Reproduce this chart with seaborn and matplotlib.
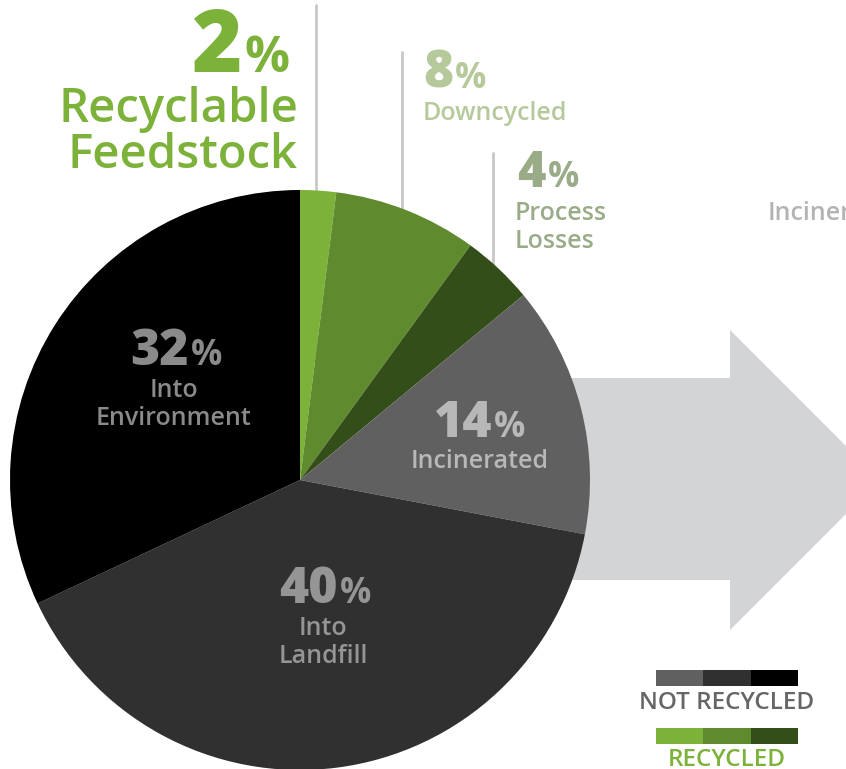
import seaborn as sns
import matplotlib.pyplot as plt
from matplotlib.patches import Polygon

# dados do gráfico
categorias = ['Recyclable Feedstock', 'Downcycled', 'Process Losses',
              'Incinerated', 'Into Landfill', 'Into Environment']
valores = [2, 8, 4, 14, 40, 32]
cores = ['#7db23a', '#5f8a2d', '#344e1a', '#606060', '#303030', '#000000']
grupos = ['RECYCLED', 'RECYCLED', 'RECYCLED',
          'NOT RECYCLED', 'NOT RECYCLED', 'NOT RECYCLED']

sns.set_theme(style='white')
plt.rcParams['font.family'] = ['Open Sans', 'DejaVu Sans']

W, H = 846, 769
fig = plt.figure(figsize=(W / 100, H / 100), dpi=100)
ax = fig.add_axes([0, 0, 1, 1])


def Y(y):
    return H - y


# seta ao fundo
seta = [(560, 378), (730, 378), (730, 330), (880, 480), (730, 630), (730, 580), (560, 580)]
ax.add_patch(Polygon([(x, Y(y)) for x, y in seta], closed=True,
                     facecolor='#d3d4d6', edgecolor='none', zorder=0))

# linhas verticais das chamadas
for x, y0 in [(316, 5), (402, 52), (493, 153)]:
    ax.plot([x, x], [Y(y0), Y(400)], color='#c8c8c8', lw=2, zorder=1)

# pizza
ax.pie(valores, colors=cores, startangle=90, counterclock=False,
       center=(300, Y(480)), radius=290,
       wedgeprops=dict(linewidth=0, zorder=2))
ax.set_xlim(0, W)
ax.set_ylim(0, H)
ax.set_aspect('auto')
ax.axis('off')


def rotulo(x_split, y_base, numero, linhas, cor, tam_num, tam_pct, tam_txt,
           ha_txt, x_txt, passo):
    ax.text(x_split, Y(y_base), str(numero), ha='right', va='baseline',
            fontsize=tam_num, fontweight=800, color=cor, zorder=5)
    ax.text(x_split + 2, Y(y_base), '%', ha='left', va='baseline',
            fontsize=tam_pct, fontweight='bold', color=cor, zorder=5)
    for i, linha in enumerate(linhas):
        ax.text(x_txt, Y(y_base + passo[0] + i * passo[1]), linha, ha=ha_txt,
                va='baseline', fontsize=tam_txt, fontweight=600, color=cor,
                zorder=5)


# chamadas externas
rotulo(242, 72, valores[0], ['Recyclable', 'Feedstock'], '#7db23a',
       62, 36, 34, 'right', 298, (50, 46))
rotulo(453, 88, valores[1], ['Downcycled'], '#b5c99a',
       37, 25, 18, 'left', 423, (32, 28))
rotulo(546, 187, valores[2], ['Process', 'Losses'], '#9aab88',
       35, 25, 18, 'left', 515, (33, 28))
ax.text(768, Y(220), 'Incinerated', ha='left', va='baseline',
        fontsize=18, fontweight=600, color='#b3b3b3', zorder=5)

# rótulos internos
rotulo(189, 365, valores[5], ['Into', 'Environment'], '#8a8a8a',
       36, 25, 18, 'center', 174, (32, 28))
rotulo(492, 437, valores[3], ['Incinerated'], '#b8b8b8',
       36, 25, 18, 'center', 480, (31, 28))
rotulo(338, 603, valores[4], ['Into', 'Landfill'], '#959595',
       36, 25, 18, 'center', 323, (32, 28))

# legenda
for grupo, y_barra, y_txt, cor_txt in [('NOT RECYCLED', 670, 709, '#666666'),
                                       ('RECYCLED', 728, 766, '#7db23a')]:
    cs = [c for c, g in zip(cores, grupos) if g == grupo]
    ax.broken_barh([(656 + k * 47.3, 47.3) for k in range(3)],
                   (Y(y_barra + 16), 16), facecolors=cs, linewidth=0, zorder=5)
    ax.text(727, Y(y_txt), grupo, ha='center', va='baseline',
            fontsize=17.5, fontweight=600, color=cor_txt, zorder=5)

plt.savefig('out.png', dpi=100)
